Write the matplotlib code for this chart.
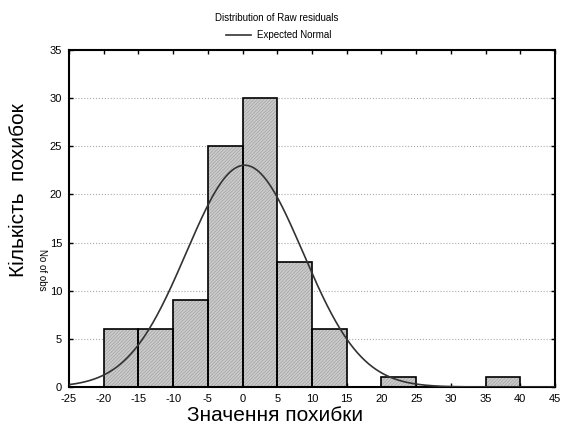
import numpy as np
import matplotlib
matplotlib.use('Agg')
import matplotlib.pyplot as plt

# дані гістограми залишків
bin_edges = [-20, -15, -10, -5, 0, 5, 10, 15, 20, 25, 30, 35, 40]
counts = [6, 6, 9, 25, 30, 13, 6, 0, 1, 0, 0, 1]
x_ticks = [-25, -20, -15, -10, -5, 0, 5, 10, 15, 20, 25, 30, 35, 40, 45]
y_ticks = [0, 5, 10, 15, 20, 25, 30, 35]
resid_mean = 0.3
resid_std = 8.4

plt.rcParams['font.family'] = ['Liberation Sans', 'DejaVu Sans']
plt.rcParams['axes.unicode_minus'] = False
plt.rcParams['hatch.linewidth'] = 0.4

fig = plt.figure(figsize=(5.63, 4.32), dpi=100)
ax = fig.add_axes([69 / 563, 1 - 387 / 432, 486 / 563, 337 / 432])

lefts = bin_edges[:-1]
widths = np.diff(bin_edges)
# заливка з штрихуванням (колір штриха береться з edgecolor), потім чорні контури
ax.bar(lefts, counts, width=widths, align='edge', color='#cbcbcb',
       edgecolor='#9a9a9a', linewidth=0, hatch='//////////', zorder=2)
ax.bar(lefts, counts, width=widths, align='edge', fill=False,
       edgecolor='black', linewidth=1.2, zorder=2.5)

# очікувана нормальна крива
n_total = sum(counts)
bw = widths[0]
xs = np.linspace(-25, 45, 400)
ys = n_total * bw / (resid_std * np.sqrt(2 * np.pi)) * np.exp(-0.5 * ((xs - resid_mean) / resid_std) ** 2)
line, = ax.plot(xs, ys, color='#333333', linewidth=1.2, zorder=3)

ax.set_xlim(-25, 45)
ax.set_ylim(0, 35)
ax.set_xticks(x_ticks)
ax.set_yticks(y_ticks)
ax.tick_params(direction='in', length=3, width=1, labelsize=8, pad=5,
               top=True, right=True, colors='black')
ax.yaxis.grid(True, linestyle=':', color='#aaaaaa', linewidth=0.8, zorder=0)
ax.set_axisbelow(True)
for s in ax.spines.values():
    s.set_linewidth(1.5)

fig.text(0.492, 0.958, 'Distribution of Raw residuals', ha='center', va='center', fontsize=7)
fig.legend([line], ['Expected Normal'], loc='center', bbox_to_anchor=(0.495, 0.918),
           frameon=False, fontsize=7, handlelength=2.6, handletextpad=0.6)

fig.text(0.488, 0.016, 'Значення похибки', ha='center', va='bottom', fontsize=15)
fig.text(0.032, 0.56, 'Кількість  похибок', rotation=90, ha='center', va='center', fontsize=15)
fig.text(0.075, 0.375, 'No of obs', rotation=-90, ha='center', va='center', fontsize=7)

fig.savefig('out.png', dpi=100)
